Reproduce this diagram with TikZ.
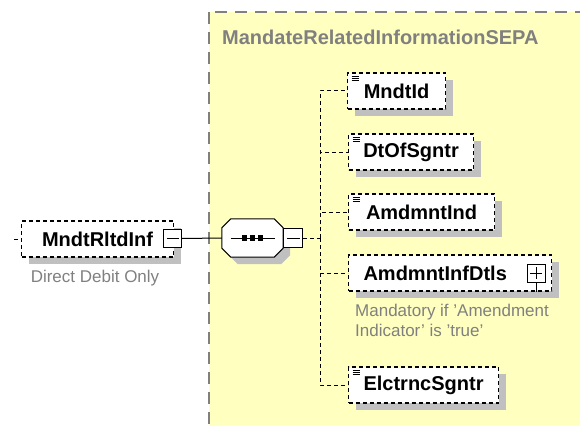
\documentclass[tikz,border=0pt]{standalone}
\usepackage{fontspec}
\setmainfont{Liberation Sans}
\usepackage{xcolor}
\usepackage{tikz}
\usetikzlibrary{shadows,positioning,calc}

\definecolor{grpyellow}{HTML}{FFFFC0}
\definecolor{grpgray}{HTML}{808080}
\definecolor{shadegray}{HTML}{C0C0C0}

\begin{document}
\begin{tikzpicture}[
  x=1pt,y=-1pt,
  elem/.style={rectangle,draw,dash pattern=on 4pt off 3pt,line width=1.1pt,
               fill=white,anchor=west,minimum height=36pt,inner xsep=0pt,
               font=\bfseries\fontsize{20}{24}\selectfont,
               general shadow={fill=shadegray,shadow xshift=7pt,shadow yshift=-7pt}},
  simple/.style={path picture={
      \foreach \dy in {3,5,7}
        \draw[solid,line width=0.8pt]
          ([shift={(4pt,-\dy pt)}]path picture bounding box.north west) -- ++(7pt,0);}},
  minusbox/.style={rectangle,draw,solid,line width=1pt,fill=white,
                   minimum size=18pt,inner sep=0pt,
                   path picture={\draw ([xshift=3pt]path picture bounding box.west)
                                    -- ([xshift=-3pt]path picture bounding box.east);}},
  plusbox/.style={minusbox,
                  path picture={\draw ([xshift=3pt]path picture bounding box.west)
                                    -- ([xshift=-3pt]path picture bounding box.east);
                                \draw ([yshift=-3pt]path picture bounding box.north)
                                    -- ([yshift=3pt]path picture bounding box.south);}},
  seqbox/.style={rectangle,minimum width=61pt,minimum height=38pt,inner sep=0pt},
  conn/.style={line width=1pt,dash pattern=on 4pt off 3pt},
  note/.style={text=grpgray,font=\fontsize{17}{20}\selectfont,inner sep=0pt,align=left},
  grouptitle/.style={text=grpgray,font=\bfseries\fontsize{20}{24}\selectfont,inner sep=0pt}
]
\useasboundingbox (0,0) rectangle (580,425);

% group of the complex type
\draw[fill=grpyellow,draw=grpgray,line width=1.5pt,dash pattern=on 12pt off 8pt]
  (209,12) rectangle (620,460);
\node[grouptitle,anchor=west] (title) at (222,37) {MandateRelatedInformationSEPA};

% root element
\node[elem,minimum width=152pt] (mndtrltdinf) at (21,239) {MndtRltdInf};
\node[minusbox] (rootminus) at (172.5,238.5) {};
\node[note,anchor=north] (rootnote) at (95,270) {Direct Debit Only};
\coordinate (stub) at (14,239);

% sequence
\node[seqbox] (seq) at (252.5,238) {};
\fill[shadegray,transform canvas={shift={(7pt,-7pt)}}]
  ([xshift=9pt]seq.north west) -- ([xshift=-9pt]seq.north east)
  -- ([yshift=-9pt]seq.north east) -- ([yshift=9pt]seq.south east)
  -- ([xshift=-9pt]seq.south east) -- ([xshift=9pt]seq.south west)
  -- ([yshift=9pt]seq.south west) -- ([yshift=-9pt]seq.north west) -- cycle;
\draw[fill=white,line width=1pt]
  ([xshift=9pt]seq.north west) -- ([xshift=-9pt]seq.north east)
  -- ([yshift=-9pt]seq.north east) -- ([yshift=9pt]seq.south east)
  -- ([xshift=-9pt]seq.south east) -- ([xshift=9pt]seq.south west)
  -- ([yshift=9pt]seq.south west) -- ([yshift=-9pt]seq.north west) -- cycle;
\draw[line width=1pt] (seq.center) +(-22,0) -- +(22,0);
\foreach \dx in {-8,0,8}
  \fill ($(seq.center)+(\dx,0)$) +(-2.6,-2.6) rectangle +(2.6,2.6);
\node[minusbox,anchor=west,minimum size=19pt] (seqminus) at (seq.east) {};
\coordinate (fork) at (320,238);

% children
\node[elem,simple,minimum width=98pt]  (mndtid)    at (347,91)  {MndtId};
\node[elem,simple,minimum width=125pt] (dtofsgntr) at (348,152) {DtOfSgntr};
\node[elem,simple,minimum width=146pt] (amdmntind) at (348,212) {AmdmntInd};
\node[elem,text width=173pt,inner xsep=15pt,align=left] (amdmntinfdtls) at (348,273) {AmdmntInfDtls};
\node[plusbox] (infplus) at (536,273) {};
\node[note,anchor=north west] (infnote) at (355,304)
  {Mandatory if 'Amendment\\Indicator' is 'true'};
\node[elem,simple,minimum width=150pt] (elctrncsgntr) at (348,385) {ElctrncSgntr};

% connectors
\draw[conn] (stub) -- (mndtrltdinf.west);
\draw[line width=1pt] (rootminus.east) -- (seq.west);
\draw[conn] (seqminus.east) -- (fork);
\draw[conn] (fork) |- (mndtid.west);
\draw[conn] (fork) |- (dtofsgntr.west);
\draw[conn] (fork) |- (amdmntind.west);
\draw[conn] (fork) |- (amdmntinfdtls.west);
\draw[conn] (fork) |- (elctrncsgntr.west);
\draw[line width=1pt] (infplus.south) -- (infplus.south |- amdmntinfdtls.south);
\end{tikzpicture}
\end{document}
